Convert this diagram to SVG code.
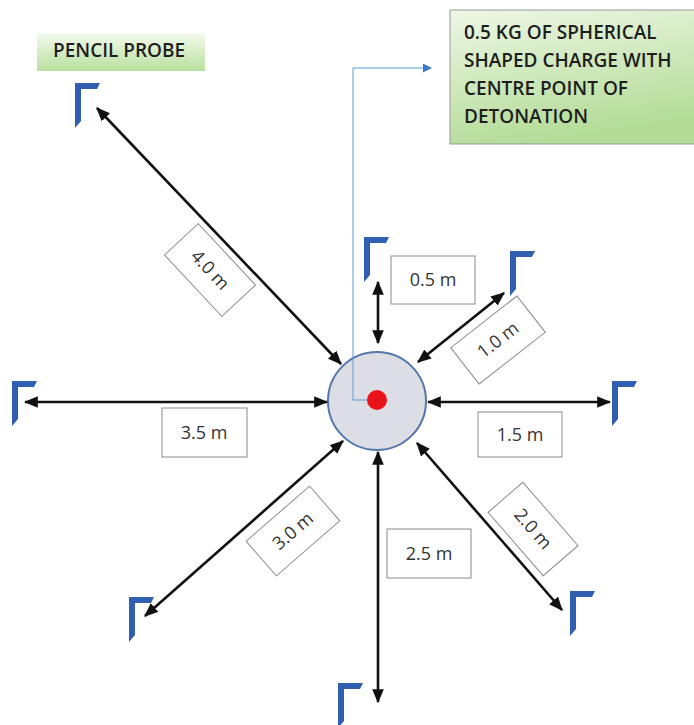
<svg xmlns="http://www.w3.org/2000/svg" width="694" height="725" viewBox="0 0 694 725">
<style>
.lbl{fill:#fff;stroke:#8a8a8a;stroke-width:1}
.lt{font-family:"Open Sans","Liberation Sans",sans-serif;font-size:18px;fill:#333;text-anchor:middle}
.gt{font-family:"Open Sans","Liberation Sans",sans-serif;font-size:19px;fill:#1e1e1e;font-weight:600}
.arr{stroke:#111;stroke-width:2.6;fill:none;marker-start:url(#ah);marker-end:url(#ah)}
.probe{fill:#2f5fae}
</style>
<defs>
<marker id="ah" viewBox="0 0 12 10" refX="11" refY="5" markerWidth="14" markerHeight="12" markerUnits="userSpaceOnUse" orient="auto-start-reverse">
<path d="M0,0 L12,5 L0,10 z" fill="#111"/>
</marker>
<marker id="bh" viewBox="0 0 10 10" refX="9" refY="5" markerWidth="9" markerHeight="9" markerUnits="userSpaceOnUse" orient="auto">
<path d="M0,0 L10,5 L0,10 z" fill="#3a78c8"/>
</marker>
<linearGradient id="g1" x1="0" y1="0" x2="0.3" y2="1">
<stop offset="0" stop-color="#eef7e6"/>
<stop offset="1" stop-color="#b4dc98"/>
</linearGradient>
<linearGradient id="g2" x1="0" y1="0" x2="0" y2="1">
<stop offset="0" stop-color="#f4faef"/>
<stop offset="1" stop-color="#b8e09c"/>
</linearGradient>
<path id="pr" d="M0,0 H25 L22,6 H6 V38 L0,45 Z"/>
</defs>

<g id="charge">
<circle cx="377" cy="401" r="49" fill="#dcdde5" stroke="#5577aa" stroke-width="2"/>
<circle cx="377" cy="400" r="10" fill="#e8141a"/>
</g>

<g id="connectors">
<path d="M367,400 H353 V68 H431" stroke="#5b9bd5" stroke-width="1" fill="none" marker-end="url(#bh)"/>
<line class="arr" x1="97" y1="108" x2="341" y2="364"/>
<line class="arr" x1="378" y1="282" x2="378" y2="343"/>
<line class="arr" x1="504" y1="293" x2="418" y2="362"/>
<line class="arr" x1="428" y1="402" x2="610" y2="402"/>
<line class="arr" x1="25" y1="402" x2="327" y2="402"/>
<line class="arr" x1="343" y1="441" x2="145" y2="616"/>
<line class="arr" x1="417" y1="443" x2="562" y2="610"/>
<line class="arr" x1="378" y1="452" x2="378" y2="702"/>
</g>

<g id="charge-label">
<rect x="450" y="10" width="250" height="134" fill="url(#g1)" stroke="#999" stroke-width="1"/>
<text class="gt" x="464" y="39">0.5 KG OF SPHERICAL</text>
<text class="gt" x="464" y="67">SHAPED CHARGE WITH</text>
<text class="gt" x="464" y="95">CENTRE POINT OF</text>
<text class="gt" x="464" y="123">DETONATION</text>
</g>

<g id="pencil-probe-label">
<rect x="37" y="33" width="168" height="38" fill="url(#g2)"/>
<text class="gt" x="53" y="57">PENCIL PROBE</text>
</g>

<g id="probe-4m"><use href="#pr" class="probe" x="75" y="83"/></g>
<g id="probe-05m"><use href="#pr" class="probe" x="364" y="237"/></g>
<g id="probe-1m"><use href="#pr" class="probe" x="510" y="251"/></g>
<g id="probe-15m"><use href="#pr" class="probe" x="612" y="381"/></g>
<g id="probe-35m"><use href="#pr" class="probe" x="12" y="381"/></g>
<g id="probe-3m"><use href="#pr" class="probe" x="129" y="597"/></g>
<g id="probe-2m"><use href="#pr" class="probe" x="570" y="591"/></g>
<g id="probe-25m"><use href="#pr" class="probe" x="338" y="683"/></g>

<g id="label-4m" transform="translate(210,270) rotate(47)">
<rect class="lbl" x="-42" y="-23" width="84" height="46"/>
<text class="lt" x="0" y="6">4.0 m</text>
</g>
<g id="label-05m">
<rect class="lbl" x="391" y="256" width="84" height="48"/>
<text class="lt" x="433" y="286">0.5 m</text>
</g>
<g id="label-1m" transform="translate(498,340) rotate(-38)">
<rect class="lbl" x="-42" y="-23" width="84" height="46"/>
<text class="lt" x="0" y="6">1.0 m</text>
</g>
<g id="label-15m">
<rect class="lbl" x="478" y="412" width="84" height="45"/>
<text class="lt" x="520" y="441">1.5 m</text>
</g>
<g id="label-35m">
<rect class="lbl" x="162" y="408" width="85" height="49"/>
<text class="lt" x="204" y="439">3.5 m</text>
</g>
<g id="label-3m" transform="translate(293,531) rotate(-41)">
<rect class="lbl" x="-42" y="-23" width="84" height="46"/>
<text class="lt" x="0" y="6">3.0 m</text>
</g>
<g id="label-25m">
<rect class="lbl" x="387" y="529" width="84" height="49"/>
<text class="lt" x="429" y="560">2.5 m</text>
</g>
<g id="label-2m" transform="translate(533,529) rotate(49)">
<rect class="lbl" x="-42" y="-23" width="84" height="46"/>
<text class="lt" x="0" y="6">2.0 m</text>
</g>
</svg>
